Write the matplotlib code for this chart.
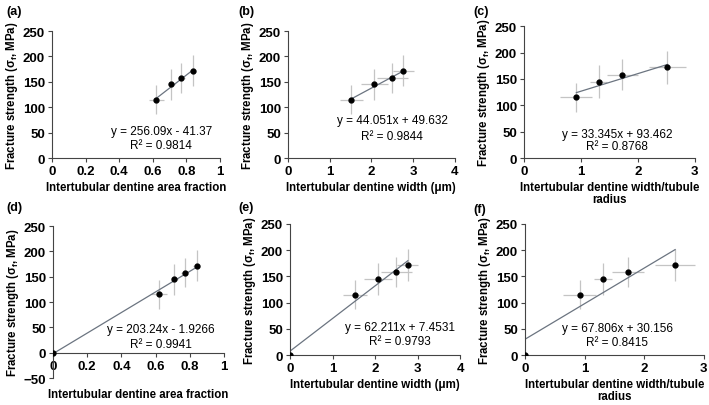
import numpy as np
import matplotlib.pyplot as plt

plt.rcParams['font.family'] = ['Liberation Sans', 'DejaVu Sans']

# measured data (same points in top and bottom rows)
area_frac = [0.62, 0.71, 0.77, 0.84]
area_frac_err = [0.045, 0.02, 0.02, 0.02]
width_um = [1.52, 2.07, 2.50, 2.77]
width_um_err = [0.28, 0.32, 0.37, 0.25]
width_ratio = [0.92, 1.31, 1.73, 2.52]
width_ratio_err = [0.28, 0.15, 0.27, 0.33]
strength = [115, 145, 158, 172]
strength_err = [28, 31, 29, 31]

# fits: (slope, intercept, R^2)
fits_top = [(256.09, -41.37, 0.9814), (44.051, 49.632, 0.9844), (33.345, 93.462, 0.8768)]
fits_bot = [(203.24, -1.9266, 0.9941), (62.211, 7.4531, 0.9793), (67.806, 30.156, 0.8415)]

xlabels = ['Intertubular dentine area fraction',
           'Intertubular dentine width (μm)',
           'Intertubular dentine width/tubule\nradius']
xlims = [(0, 1), (0, 4), (0, 3)]
xticks = [[0, 0.2, 0.4, 0.6, 0.8, 1], [0, 1, 2, 3, 4], [0, 1, 2, 3]]
xticklabels = [['0', '0.2', '0.4', '0.6', '0.8', '1'], ['0', '1', '2', '3', '4'], ['0', '1', '2', '3']]
xs = [area_frac, width_um, width_ratio]
xerrs = [area_frac_err, width_um_err, width_ratio_err]

ylabel = 'Fracture strength (σ$_\\mathregular{f}$, MPa)'

fig = plt.figure(figsize=(7.09, 4.06), dpi=100)

pos = [[0.0733, 0.608, 0.237, 0.313], [0.406, 0.608, 0.2355, 0.313], [0.739, 0.608, 0.241, 0.325],
       [0.0748, 0.0665, 0.241, 0.374], [0.409, 0.123, 0.24, 0.323], [0.7405, 0.123, 0.252, 0.323]]
letters = ['(a)', '(b)', '(c)', '(d)', '(e)', '(f)']
letter_xy = [(6, 12), (238, 12), (473, 12), (6, 208), (238, 208), (473, 210)]
eq_pos = [(0.65, 53, 26), (2.5, 75, 43), (1.63, 45, 23),
          (0.63, 46, 18), (2.59, 53, 27), (1.55, 51, 25)]

for i in range(6):
    ax = fig.add_axes(pos[i])
    col = i % 3
    x = xs[col]
    through_zero = i >= 3
    fit = fits_bot[col] if through_zero else fits_top[col]

    ax.errorbar(x, strength, xerr=xerrs[col], yerr=strength_err, fmt='none',
                ecolor='#c4c4c4', elinewidth=0.9, capsize=0, zorder=1)
    xf0 = 0 if through_zero else min(x)
    xf = np.array([xf0, max(x)])
    ax.plot(xf, fit[0] * xf + fit[1], color='#6b7480', lw=0.9, zorder=2)
    ax.plot(x, strength, 'o', color='black', ms=3.5, zorder=3)
    if through_zero:
        ax.plot([0], [0], 'o', color='black', ms=3.5, zorder=3)

    sign = '+' if fit[1] >= 0 else '-'
    ex, ey1, ey2 = eq_pos[i]
    ax.text(ex, ey1, f'y = {fit[0]:g}x {sign} {abs(fit[1]):g}', ha='center', va='center', fontsize=8.5)
    ax.text(ex, ey2, f'R² = {fit[2]:.4f}', ha='center', va='center', fontsize=8.5)

    ax.set_xlim(*xlims[col])
    ax.set_xticks(xticks[col])
    ax.set_xticklabels(xticklabels[col])
    if i == 3:
        ax.set_ylim(-50, 250)
        ax.set_yticks([-50, 0, 50, 100, 150, 200, 250])
        ax.spines['bottom'].set_position(('data', 0))
    else:
        ax.set_ylim(0, 250)
        ax.set_yticks([0, 50, 100, 150, 200, 250])
    for s in ['top', 'right']:
        ax.spines[s].set_visible(False)
    for s in ['left', 'bottom']:
        ax.spines[s].set_color('#444444')
        ax.spines[s].set_linewidth(0.8)
    ax.tick_params(direction='out', length=3, width=0.8, color='#444444', labelsize=9.5, pad=2)
    for lab in ax.get_xticklabels() + ax.get_yticklabels():
        lab.set_fontweight('bold')
    ax.set_xlabel(xlabels[col], fontsize=8.3, fontweight='bold', labelpad=3, linespacing=1.0)
    if i == 3:
        ax.xaxis.set_label_coords(0.5, -0.065)
    ax.set_ylabel(ylabel, fontsize=8.3, fontweight='bold', labelpad=2)
    lx, ly = letter_xy[i]
    fig.text(lx / 709, 1 - ly / 406, letters[i], fontsize=9, fontweight='bold',
             ha='left', va='center')

fig.savefig('out.png', dpi=100)
